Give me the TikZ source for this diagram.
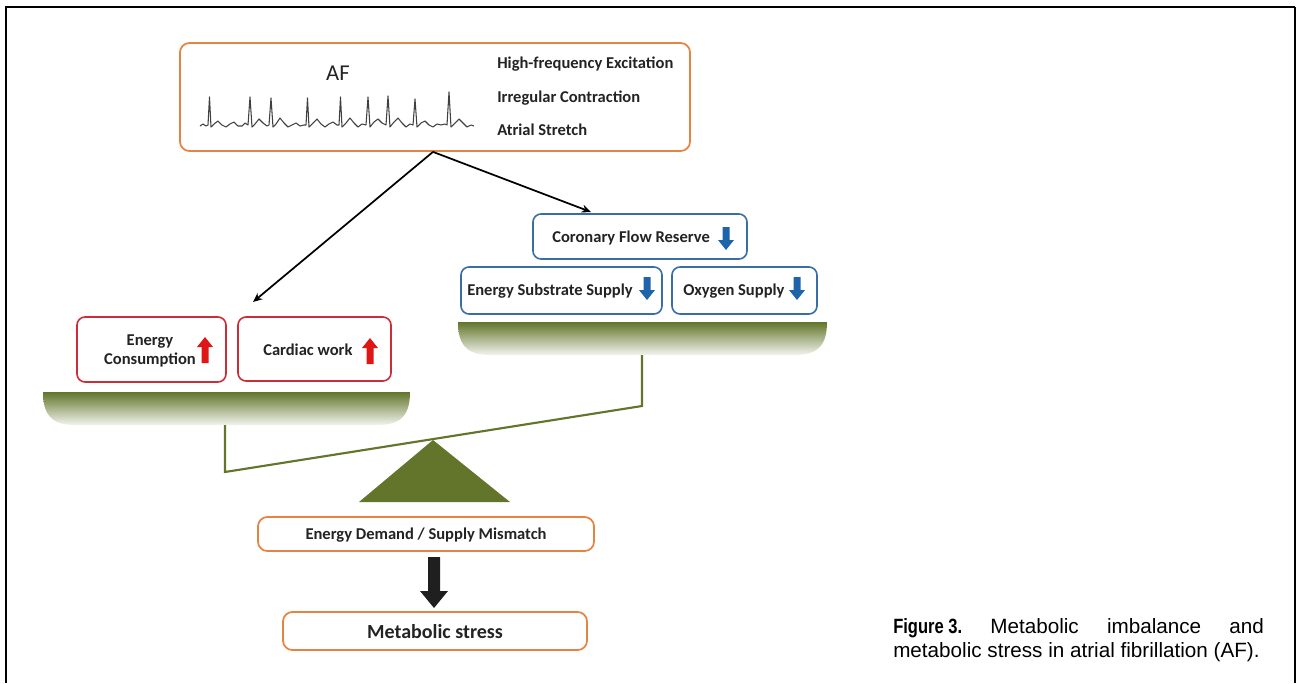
\documentclass[tikz,border=0pt]{standalone}
\usepackage{fontspec}
\setmainfont{Carlito}
\newfontfamily\capfont{Liberation Sans}
\usetikzlibrary{arrows.meta}
\definecolor{afor}{RGB}{228,132,64}
\definecolor{rbox}{RGB}{205,45,55}
\definecolor{rarr}{RGB}{222,22,22}
\definecolor{bbox}{RGB}{55,110,165}
\definecolor{barr}{RGB}{30,100,170}
\definecolor{olv}{RGB}{98,117,42}
\definecolor{txt}{RGB}{35,35,35}
\tikzset{
  obox/.style={draw=afor,line width=1.3pt,rounded corners=7pt,inner sep=0pt},
  rdbox/.style={draw=rbox,line width=1.2pt,rounded corners=6pt,inner sep=0pt},
  blbox/.style={draw=bbox,line width=1.2pt,rounded corners=6pt,inner sep=0pt},
  lbl/.style={font=\bfseries\fontsize{12.4}{13.4}\selectfont,text=txt,inner sep=0pt},
  conn/.style={line width=1.3pt,-{Stealth[length=7pt,width=6pt]}},
  beam/.style={draw=olv,line width=1.6pt},
}
\newcommand\blkup[3]{\fill[#3] (#1-3.5,#2+26) -- (#1-3.5,#2+10) -- (#1-8,#2+10) -- (#1,#2) -- (#1+8,#2+10) -- (#1+3.5,#2+10) -- (#1+3.5,#2+26) -- cycle;}
\newcommand\blkdn[3]{\fill[#3] (#1-3.5,#2) -- (#1-3.5,#2+13) -- (#1-8,#2+13) -- (#1,#2+23) -- (#1+8,#2+13) -- (#1+3.5,#2+13) -- (#1+3.5,#2) -- cycle;}
\begin{document}
\begin{tikzpicture}[x=0.75pt,y=-0.75pt]
\useasboundingbox (0,0) rectangle (1297,683);
% frame
\draw[line width=2.2pt] (6,683) -- (6,7) -- (1295,7);
\draw[line width=1.1pt] (1295,7) -- (1295,683);

% AF box
\node[obox,minimum width=382.5pt,minimum height=81pt] (af) at (435,97) {};
\node[font=\fontsize{17}{18}\selectfont,text=txt,inner sep=0pt] (aft) at (338,73) {AF};
\node[lbl,anchor=west] (hf) at (497,64) {High-frequency Excitation};
\node[lbl,anchor=west] (ic) at (497,98) {Irregular Contraction};
\node[lbl,anchor=west] (as) at (497,130) {Atrial Stretch};
\draw[line width=0.8pt,color=black!75,line join=round]
(200,126) -- (203,124) -- (206,126) -- (208,125) -- (209.5,97) -- (211,127) -- (214,124) -- (218,121) -- (222,125) -- (226,127) -- (230,124) -- (234,122) -- (238,126) -- (242,126) -- (245,123) -- (248,125) -- (250,97) -- (252,127) -- (255,124) -- (259,119) -- (263,123) -- (267,126) -- (269,125) -- (271,98) -- (273,127) -- (276,124) -- (280,118) -- (284,123) -- (288,127) -- (292,125) -- (296,123) -- (300,126) -- (304,125) -- (306,125) -- (307.5,98) -- (309,127) -- (313,123) -- (317,119) -- (321,124) -- (325,127) -- (329,124) -- (333,122) -- (337,125) -- (339,125) -- (340.5,97) -- (342,127) -- (346,123) -- (350,118) -- (354,123) -- (358,127) -- (362,124) -- (366,125) -- (368,97) -- (370,127) -- (374,122) -- (378,119) -- (382,123) -- (386,125) -- (388,96) -- (390,127) -- (394,122) -- (398,118) -- (402,123) -- (406,127) -- (410,124) -- (413,125) -- (415,99) -- (417,127) -- (421,123) -- (425,121) -- (429,125) -- (433,127) -- (437,124) -- (441,125) -- (445,124) -- (447,125) -- (449,92) -- (451,127) -- (455,123) -- (459,119) -- (463,123) -- (467,127) -- (471,125) -- (474,126);

% connectors
\coordinate (lend) at (253,302);
\coordinate (rend) at (591,212);
\draw[conn] (af.south) ++(-2,0) coordinate (afs) -- (lend);
\draw[conn] (afs) -- (rend);

% blue boxes
\node[blbox,minimum width=160.5pt,minimum height=33.75pt] (cfr) at (640,236.5) {};
\node[lbl,anchor=west] (cfrt) at (552,238) {Coronary Flow Reserve};
\blkdn{726}{227}{barr}
\node[blbox,minimum width=150.75pt,minimum height=35.25pt] (ess) at (561.5,290.5) {};
\node[lbl,anchor=west] (esst) at (467,291) {Energy Substrate Supply};
\blkdn{647}{277}{barr}
\node[blbox,minimum width=108.75pt,minimum height=35.25pt] (ox) at (744.5,290.5) {};
\node[lbl,anchor=west] (oxt) at (683,291) {Oxygen Supply};
\blkdn{797}{277}{barr}

% red boxes
\node[rdbox,minimum width=111.75pt,minimum height=48.75pt] (ec) at (151.5,349.5) {};
\node[lbl,align=center] (ect) at (150,351) {Energy\\[1pt]Consumption};
\blkup{205}{337}{rarr}
\node[rdbox,minimum width=114.75pt,minimum height=48pt] (cw) at (314.5,349) {};
\node[lbl,anchor=west] (cwt) at (263,350) {Cardiac work};
\blkup{370}{338}{rarr}

% trays
\shade[top color=olv,middle color=olv!92!white,bottom color=olv!8!white]
 (458,322) -- (827,322) .. controls (827,345) and (818,355) .. (795,355) -- (490,355) .. controls (467,355) and (458,345) .. (458,322) -- cycle;
\shade[top color=olv,middle color=olv!92!white,bottom color=olv!8!white]
 (43,392) -- (410,392) .. controls (410,415) and (401,425) .. (378,425) -- (75,425) .. controls (52,425) and (43,415) .. (43,392) -- cycle;

% balance beam and fulcrum
\coordinate (ltray) at (225,425);
\coordinate (rtray) at (642,355);
\coordinate (lbeam) at (225,472);
\coordinate (rbeam) at (642,406);
\draw[beam] (ltray) -- (lbeam) -- (rbeam) -- (rtray);
\fill[olv] (433,440) -- (510,502) -- (359,502) -- cycle;

% bottom boxes
\node[obox,minimum width=252pt,minimum height=25.5pt] (mm) at (426,534) {};
\node[lbl] (mmt) at (426,535) {Energy Demand / Supply Mismatch};
\node[obox,minimum width=228pt,minimum height=28.5pt] (ms) at (435,631) {};
\node[font=\bfseries\fontsize{15}{16}\selectfont,text=txt,inner sep=0pt] (mst) at (435,632) {Metabolic stress};
\fill[black!88] (428,557) -- (440,557) -- (440,591) -- (448,591) -- (434,608) -- (420,591) -- (428,591) -- cycle;

% caption
\node[anchor=base west,inner sep=0pt,font=\capfont\fontsize{15.5}{17}\selectfont] (cap1) at (893,633)
 {\makebox[278pt][s]{\scalebox{0.8}[1]{\bfseries Figure 3.}\hfill Metabolic\hfill imbalance\hfill and}};
\node[anchor=base west,inner sep=0pt,font=\capfont\fontsize{15.5}{17}\selectfont] (cap2) at (893,657)
 {metabolic stress in atrial fibrillation (AF).};
\end{tikzpicture}
\end{document}
